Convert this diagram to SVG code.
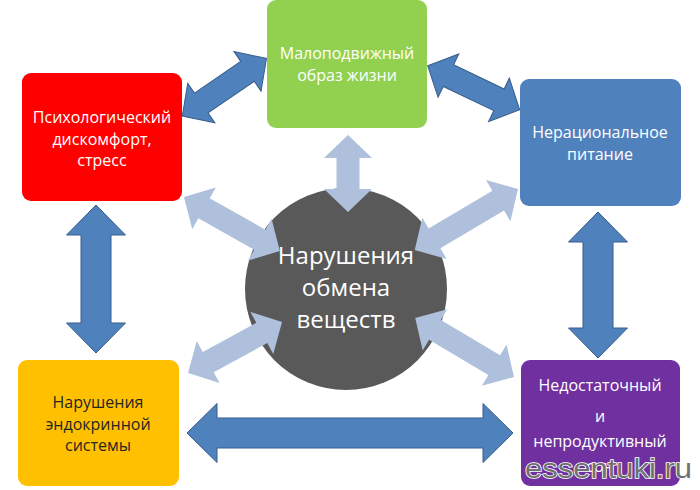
<svg xmlns="http://www.w3.org/2000/svg" width="700" height="490" viewBox="0 0 700 490">
<style>
.t{font-family:"Open Sans","Noto Sans","Liberation Sans",sans-serif;font-size:16px;text-anchor:middle;fill:#ffffff}
.dk{fill:#262626}
.big{font-size:24px}
.da{fill:#4F81BD;stroke:#385D8A;stroke-width:1}
.la{fill:#AEC0DC}
.wm{font-family:"Liberation Sans","DejaVu Sans",sans-serif;font-size:27px;fill:#707070;stroke:#ffffff;stroke-width:1.5;paint-order:stroke}
</style>
<rect width="700" height="490" fill="#ffffff"/>
<g id="node-green">
<rect x="267" y="0" width="160" height="128" rx="9" fill="#92D050"/>
<text class="t" x="347" y="59">Малоподвижный</text>
<text class="t" x="347" y="81">образ жизни</text>
</g>
<g id="node-red">
<rect x="22" y="73" width="160" height="128" rx="9" fill="#FF0000"/>
<text class="t" x="102" y="123">Психологический</text>
<text class="t" x="102" y="145">дискомфорт,</text>
<text class="t" x="102" y="166">стресс</text>
</g>
<g id="node-blue">
<rect x="520" y="79" width="161" height="127" rx="9" fill="#4F81BD"/>
<text class="t" x="600" y="138">Нерациональное</text>
<text class="t" x="600" y="160">питание</text>
</g>
<g id="node-yellow">
<rect x="18" y="360" width="161" height="126" rx="9" fill="#FFC000"/>
<text class="t dk" x="98" y="408">Нарушения</text>
<text class="t dk" x="98" y="430">эндокринной</text>
<text class="t dk" x="98" y="451">системы</text>
</g>
<g id="node-purple">
<rect x="521" y="360" width="159" height="126" rx="9" fill="#7030A0"/>
<text class="t" x="600" y="391">Недостаточный</text>
<text class="t" x="600" y="422">и</text>
<text class="t" x="600" y="447">непродуктивный</text>
<text class="t" x="600" y="472">сон</text>
</g>
<g id="node-center">
<circle cx="346" cy="289" r="101" fill="#595959"/>
</g>
<g id="connectors">
<path class="da" transform="translate(182.3,116) rotate(-34.4)" d="M0,0 L23,-24 L23,-12 L79,-12 L79,-24 L102,0 L79,24 L79,12 L23,12 L23,24 Z"/>
<path class="da" transform="translate(427.7,65.7) rotate(25.6)" d="M0,0 L23,-24 L23,-12 L79,-12 L79,-24 L102,0 L79,24 L79,12 L23,12 L23,24 Z"/>
<path class="da" transform="translate(96,205) rotate(90)" d="M0,0 L30,-29.5 L30,-15 L118,-15 L118,-29.5 L148,0 L118,29.5 L118,15 L30,15 L30,29.5 Z"/>
<path class="da" transform="translate(598,212) rotate(90)" d="M0,0 L30,-29.5 L30,-15 L116,-15 L116,-29.5 L146,0 L116,29.5 L116,15 L30,15 L30,29.5 Z"/>
<path class="da" transform="translate(187,433)" d="M0,0 L30,-29.5 L30,-15 L296,-15 L296,-29.5 L326,0 L296,29.5 L296,15 L30,15 L30,29.5 Z"/>
<path class="la" transform="translate(348,135) rotate(90)" d="M0,0 L23,-24 L23,-11.5 L54,-11.5 L54,-24 L77,0 L54,24 L54,11.5 L23,11.5 L23,24 Z"/>
<path class="la" transform="translate(184,197) rotate(29.4)" d="M0,0 L23,-24 L23,-11.5 L87,-11.5 L87,-24 L110,0 L87,24 L87,11.5 L23,11.5 L23,24 Z"/>
<path class="la" transform="translate(518,189) rotate(149.4)" d="M0,0 L23,-24 L23,-11.5 L97,-11.5 L97,-24 L120,0 L97,24 L97,11.5 L23,11.5 L23,24 Z"/>
<path class="la" transform="translate(188,373) rotate(-28.5)" d="M0,0 L23,-24 L23,-11.5 L84,-11.5 L84,-24 L107,0 L84,24 L84,11.5 L23,11.5 L23,24 Z"/>
<path class="la" transform="translate(514,377) rotate(210.8)" d="M0,0 L23,-24 L23,-11.5 L92,-11.5 L92,-24 L115,0 L92,24 L92,11.5 L23,11.5 L23,24 Z"/>
</g>
<g id="center-label">
<text class="t big" x="346" y="264">Нарушения</text>
<text class="t big" x="346" y="296">обмена</text>
<text class="t big" x="346" y="328">веществ</text>
</g>
<text class="wm" x="525" y="478" textLength="167" lengthAdjust="spacingAndGlyphs">essentuki.ru</text>
</svg>
